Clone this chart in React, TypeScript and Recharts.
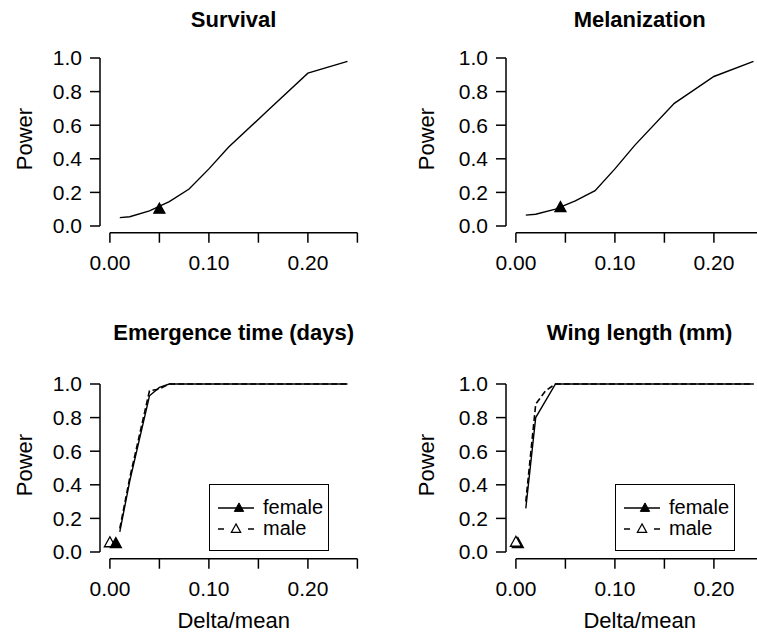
import React from 'react';
import { LineChart, Line, XAxis, YAxis, ReferenceLine, Legend } from 'recharts';

const FONT = '"Liberation Sans", Arial, Helvetica, sans-serif';

// ---------- data ----------
const xTicks = [0, 0.05, 0.1, 0.15, 0.2, 0.25];
const xTickLabels = ['0.00', '', '0.10', '', '0.20', ''];
const yTicks = [0, 0.2, 0.4, 0.6, 0.8, 1.0];
const yTickLabels = ['0.0', '0.2', '0.4', '0.6', '0.8', '1.0'];

const panelTitles = ['Survival', 'Melanization', 'Emergence time (days)', 'Wing length (mm)'];
const legendLabels = ['female', 'male'];

const survivalX = [0.01, 0.02, 0.04, 0.06, 0.08, 0.1, 0.12, 0.16, 0.2, 0.24];
const survivalY = [0.05, 0.055, 0.09, 0.145, 0.22, 0.34, 0.47, 0.69, 0.91, 0.98];
const survivalObsX = [0.05];
const survivalObsY = [0.1];

const melanX = [0.01, 0.02, 0.04, 0.06, 0.08, 0.1, 0.12, 0.16, 0.2, 0.24];
const melanY = [0.065, 0.07, 0.1, 0.15, 0.21, 0.34, 0.48, 0.73, 0.89, 0.98];
const melanObsX = [0.045];
const melanObsY = [0.11];

const emergFemaleX = [0.01, 0.02, 0.04, 0.05, 0.06, 0.08, 0.12, 0.16, 0.2, 0.24];
const emergFemaleY = [0.12, 0.42, 0.93, 0.98, 1.0, 1.0, 1.0, 1.0, 1.0, 1.0];
const emergMaleX = [0.01, 0.02, 0.04, 0.05, 0.06, 0.08, 0.12, 0.16, 0.2, 0.24];
const emergMaleY = [0.14, 0.44, 0.96, 0.97, 1.0, 1.0, 1.0, 1.0, 1.0, 1.0];
const emergFemaleObsX = [0.006];
const emergFemaleObsY = [0.05];
const emergMaleObsX = [0.0];
const emergMaleObsY = [0.055];

const wingFemaleX = [0.01, 0.02, 0.04, 0.06, 0.08, 0.12, 0.16, 0.2, 0.24];
const wingFemaleY = [0.26, 0.8, 1.0, 1.0, 1.0, 1.0, 1.0, 1.0, 1.0];
const wingMaleX = [0.01, 0.02, 0.03, 0.04, 0.06, 0.08, 0.12, 0.16, 0.2, 0.24];
const wingMaleY = [0.3, 0.88, 0.96, 1.0, 1.0, 1.0, 1.0, 1.0, 1.0, 1.0];
const wingFemaleObsX = [0.002];
const wingFemaleObsY = [0.05];
const wingMaleObsX = [0.0];
const wingMaleObsY = [0.058];

const zip = (xs: number[], ys: number[]) => xs.map((x, i) => ({ x, y: ys[i] }));

// ---------- layout ----------
const CH_W = 380;
const CH_H = 340;
const PLOT_LEFT = 100;
const PLOT_W = 267.3;
const PLOT_TOP = 71.28;
const PLOT_H = 181.44;
const XAXIS_H = 60;
const YAXIS_W = 70;
const X_DOMAIN: [number, number] = [-0.01, 0.26];
const Y_DOMAIN: [number, number] = [-0.04, 1.04];

const triPath = (cx: number, cy: number, s = 1) =>
  `M${cx},${cy - 6 * s} L${cx + 5.5 * s},${cy + 4 * s} L${cx - 5.5 * s},${cy + 4 * s} Z`;

const makeTri = (filled: boolean) => (props: any) => {
  const { cx, cy, index } = props;
  if (cx == null || cy == null) return <g key={`t${index}`} />;
  return (
    <path
      key={`t${index}`}
      d={triPath(cx, cy)}
      fill={filled ? '#000' : '#fff'}
      stroke="#000"
      strokeWidth={1.3}
    />
  );
};

const LegendBox = () => (
  <div
    style={{
      width: 120,
      height: 67,
      border: '1.5px solid #000',
      boxSizing: 'border-box',
      background: '#fff',
      position: 'relative',
      fontFamily: FONT,
      fontSize: 20,
      color: '#000',
    }}
  >
    <svg width={50} height={67} style={{ position: 'absolute', left: 0, top: 0 }}>
      <line x1={8} x2={44} y1={23} y2={23} stroke="#000" strokeWidth={1.5} />
      <path d={triPath(29, 23, 0.85)} fill="#000" stroke="#000" strokeWidth={1} />
      <line x1={8} x2={14} y1={44} y2={44} stroke="#000" strokeWidth={1.5} />
      <line x1={38} x2={44} y1={44} y2={44} stroke="#000" strokeWidth={1.5} />
      <path d={triPath(26, 44, 0.85)} fill="#fff" stroke="#000" strokeWidth={1.2} />
    </svg>
    <div style={{ position: 'absolute', left: 53, top: 10, lineHeight: '24px' }}>{legendLabels[0]}</div>
    <div style={{ position: 'absolute', left: 53, top: 31, lineHeight: '24px' }}>{legendLabels[1]}</div>
  </div>
);

type Series = { data: { x: number; y: number }[]; dashed?: boolean };
type Marker = { data: { x: number; y: number }[]; filled: boolean };

type PanelProps = {
  left: number;
  top: number;
  title: string;
  titleY: number;
  powerX: number;
  xLabel?: boolean;
  legend?: boolean;
  series: Series[];
  markers: Marker[];
};

const Panel = ({ left, top, title, titleY, powerX, xLabel, legend, series, markers }: PanelProps) => {
  const cx = PLOT_LEFT + PLOT_W / 2;
  return (
    <div style={{ position: 'absolute', left, top, width: CH_W, height: CH_H }}>
      <LineChart
        width={CH_W}
        height={CH_H}
        margin={{
          top: PLOT_TOP,
          left: PLOT_LEFT - YAXIS_W,
          right: CH_W - PLOT_LEFT - PLOT_W,
          bottom: CH_H - PLOT_TOP - PLOT_H - XAXIS_H,
        }}
      >
        <XAxis
          type="number"
          dataKey="x"
          domain={X_DOMAIN}
          allowDataOverflow
          ticks={xTicks}
          interval={0}
          height={XAXIS_H}
          axisLine={false}
          tickLine={{ stroke: '#000', strokeWidth: 1.5 }}
          tickSize={10}
          tickMargin={12}
          tickFormatter={(_v: number, i: number) => xTickLabels[i]}
          tick={{ fill: '#000', fontSize: 21, fontFamily: FONT }}
        />
        <YAxis
          type="number"
          domain={Y_DOMAIN}
          allowDataOverflow
          ticks={yTicks}
          interval={0}
          width={YAXIS_W}
          axisLine={false}
          tickLine={{ stroke: '#000', strokeWidth: 1.5 }}
          tickSize={10}
          tickMargin={8}
          tickFormatter={(_v: number, i: number) => yTickLabels[i]}
          tick={{ fill: '#000', fontSize: 21, fontFamily: FONT }}
        />
        <ReferenceLine
          segment={[{ x: xTicks[0], y: Y_DOMAIN[0] }, { x: xTicks[xTicks.length - 1], y: Y_DOMAIN[0] }]}
          stroke="#000"
          strokeWidth={1.5}
          ifOverflow="visible"
        />
        <ReferenceLine
          segment={[{ x: X_DOMAIN[0], y: yTicks[0] }, { x: X_DOMAIN[0], y: yTicks[yTicks.length - 1] }]}
          stroke="#000"
          strokeWidth={1.5}
          ifOverflow="visible"
        />
        {series.map((s, i) => (
          <Line
            key={`s${i}`}
            data={s.data}
            dataKey="y"
            type="linear"
            stroke="#000"
            strokeWidth={s.dashed ? 1.6 : 1.4}
            strokeDasharray={s.dashed ? '6 3' : undefined}
            dot={false}
            activeDot={false}
            isAnimationActive={false}
          />
        ))}
        {markers.map((m, i) => (
          <Line
            key={`m${i}`}
            data={m.data}
            dataKey="y"
            stroke="none"
            dot={makeTri(m.filled)}
            activeDot={false}
            isAnimationActive={false}
          />
        ))}
        {legend && (
          <Legend
            layout="vertical"
            align="center"
            verticalAlign="middle"
            wrapperStyle={{ left: 209, top: 178, width: 120, height: 67 }}
            content={() => <LegendBox />}
          />
        )}
        <text
          x={cx}
          y={titleY}
          textAnchor="middle"
          fontWeight="bold"
          fontSize={22}
          fontFamily={FONT}
          fill="#000"
        >
          {title}
        </text>
        <text
          x={powerX}
          y={159}
          transform={`rotate(-90, ${powerX}, 159)`}
          textAnchor="middle"
          dy="0.35em"
          fontSize={22}
          fontFamily={FONT}
          fill="#000"
        >
          Power
        </text>
        {xLabel && (
          <text x={cx} y={322} textAnchor="middle" fontSize={22} fontFamily={FONT} fill="#000">
            Delta/mean
          </text>
        )}
      </LineChart>
    </div>
  );
};

export default function App() {
  return (
    <div
      style={{
        position: 'absolute',
        left: 0,
        top: 0,
        width: 757,
        height: 636,
        overflow: 'hidden',
        background: '#fff',
      }}
    >
      <Panel
        left={0}
        top={-20}
        title={panelTitles[0]}
        titleY={47}
        powerX={24}
        series={[{ data: zip(survivalX, survivalY) }]}
        markers={[{ data: zip(survivalObsX, survivalObsY), filled: true }]}
      />
      <Panel
        left={406}
        top={-20}
        title={panelTitles[1]}
        titleY={47}
        powerX={20}
        series={[{ data: zip(melanX, melanY) }]}
        markers={[{ data: zip(melanObsX, melanObsY), filled: true }]}
      />
      <Panel
        left={0}
        top={306}
        title={panelTitles[2]}
        titleY={34}
        powerX={24}
        xLabel
        legend
        series={[
          { data: zip(emergFemaleX, emergFemaleY) },
          { data: zip(emergMaleX, emergMaleY), dashed: true },
        ]}
        markers={[
          { data: zip(emergMaleObsX, emergMaleObsY), filled: false },
          { data: zip(emergFemaleObsX, emergFemaleObsY), filled: true },
        ]}
      />
      <Panel
        left={406}
        top={306}
        title={panelTitles[3]}
        titleY={34}
        powerX={20}
        xLabel
        legend
        series={[
          { data: zip(wingFemaleX, wingFemaleY) },
          { data: zip(wingMaleX, wingMaleY), dashed: true },
        ]}
        markers={[
          { data: zip(wingFemaleObsX, wingFemaleObsY), filled: true },
          { data: zip(wingMaleObsX, wingMaleObsY), filled: false },
        ]}
      />
    </div>
  );
}
